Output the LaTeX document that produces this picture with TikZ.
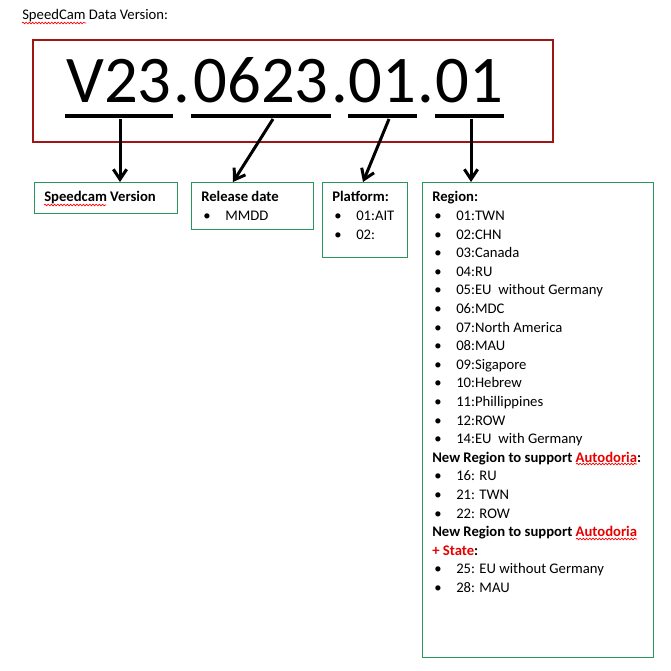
\documentclass[tikz,border=0pt]{standalone}
\usepackage{fontspec}
\setmainfont{Carlito}
\usetikzlibrary{arrows.meta,positioning,decorations.pathmorphing}

\definecolor{boxred}{RGB}{160,20,20}
\definecolor{boxgreen}{RGB}{40,150,90}
\definecolor{wordred}{RGB}{230,0,0}

\newcommand{\bul}[1]{\hspace*{1.5pt}\makebox[16.5pt][l]{\textbullet}#1}

\tikzset{
  part/.style={font=\fontsize{50}{60}\selectfont, inner sep=0pt, anchor=base},
  uline/.style={line width=3pt},
  pointer/.style={line width=2.25pt, -{Straight Barb[length=7.5pt,width=10pt]}},
  gbox/.style={draw=boxgreen, line width=1.1pt, anchor=north west, inner sep=0pt},
  boxtext/.style={font=\fontsize{11}{13.95}\selectfont, align=left, inner sep=0pt},
  spell/.style={red, line width=0.5pt, decorate, decoration={snake, amplitude=0.6pt, segment length=2.4pt}},
}

\begin{document}
\begin{tikzpicture}[x=0.75pt,y=-0.75pt]
        \useasboundingbox (0,0) rectangle (671,671);

        \node[boxtext, anchor=west] (title) at (22,16) {SpeedCam Data Version:};

        \draw[boxred, line width=1.5pt] (33,40) rectangle (553,142);

        \node[part] (ver) at (119,102) {V23};
        \node[part] (dot1) at (182,102) {.};
        \node[part] (date) at (261,102) {0623};
        \node[part] (dot2) at (339.5,102) {.};
        \node[part] (plat) at (382.5,102) {01};
        \node[part] (dot3) at (426,102) {.};
        \node[part] (reg) at (469.5,102) {01};

        \draw[uline] (65,116) -- (173,116);
        \draw[uline] (191,116) -- (331,116);
        \draw[uline] (348,116) -- (417,116);
        \draw[uline] (435,116) -- (504,116);

        \node[gbox, minimum width=107.25pt, minimum height=23.25pt] (svbox) at (34,182) {};
        \node[gbox, minimum width=91.5pt, minimum height=35.25pt] (rdbox) at (191,182) {};
        \node[gbox, minimum width=63.75pt, minimum height=56.25pt] (pfbox) at (322,182) {};
        \node[gbox, minimum width=173.25pt, minimum height=356.25pt] (rgbox) at (422,182) {};

        \node[boxtext, below right=7pt and 7.5pt of svbox.north west] (svtext)
          {\textbf{Speedcam Version}};
        \node[boxtext, below right=7pt and 7.5pt of rdbox.north west] (rdtext)
          {\textbf{Release date}\\ \bul{MMDD}};
        \node[boxtext, below right=7pt and 7.5pt of pfbox.north west] (pftext)
          {\textbf{Platform:}\\ \bul{01:AIT}\\ \bul{02:}};
        \node[boxtext, below right=7pt and 7.5pt of rgbox.north west] (rgtext)
          {\textbf{Region:}\\
           \bul{01:TWN}\\
           \bul{02:CHN}\\
           \bul{03:Canada}\\
           \bul{04:RU}\\
           \bul{05:EU\ \ without Germany}\\
           \bul{06:MDC}\\
           \bul{07:North America}\\
           \bul{08:MAU}\\
           \bul{09:Sigapore}\\
           \bul{10:Hebrew}\\
           \bul{11:Phillippines}\\
           \bul{12:ROW}\\
           \bul{14:EU\ \ with Germany}\\
           \textbf{New Region to support \textcolor{wordred}{Autodoria}:}\\
           \bul{16: RU}\\
           \bul{21: TWN}\\
           \bul{22: ROW}\\
           \textbf{New Region to support \textcolor{wordred}{Autodoria}}\\
           \textbf{\textcolor{wordred}{+ State}:}\\
           \bul{25: EU without Germany}\\
           \bul{28: MAU}};

        % spell checker marks
        \draw[spell] (22,23) -- (86,23);
        \draw[spell] (44,205) -- (106,205);
        \draw[spell] (576,464) -- (637,464);
        \draw[spell] (576,539) -- (637,539);

        \draw[pointer] (120,119) -- ([xshift=64.5pt]svbox.north west);
        \draw[pointer] (273,119) -- ([xshift=31.5pt]rdbox.north west);
        \draw[pointer] (389,119) -- ([xshift=30.75pt]pfbox.north west);
        \draw[pointer] (471,119) -- ([xshift=36.75pt]rgbox.north west);
\end{tikzpicture}
\end{document}
